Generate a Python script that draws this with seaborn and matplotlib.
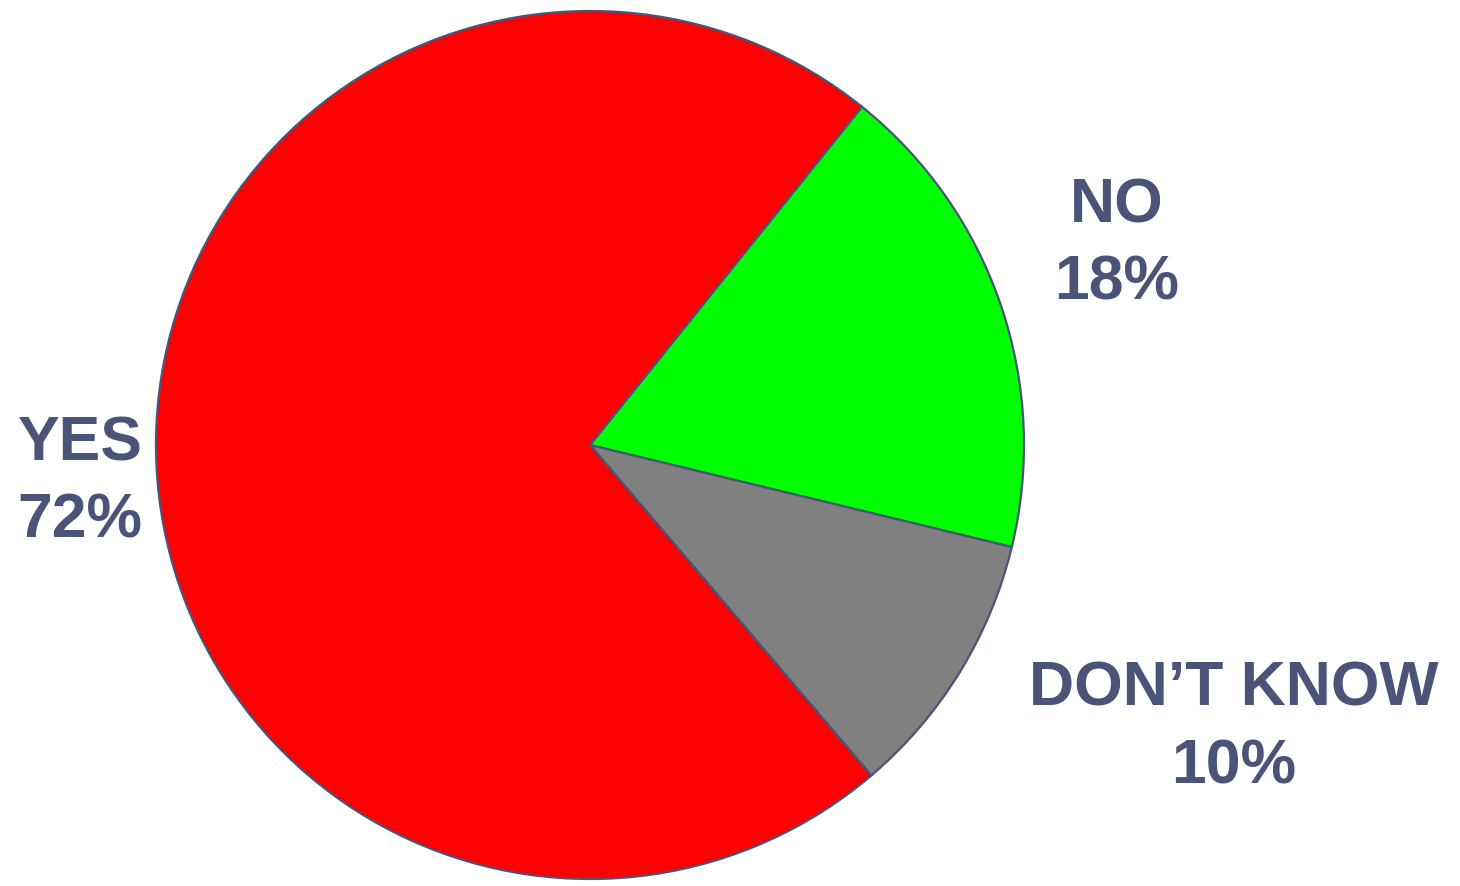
import matplotlib
matplotlib.use("Agg")
import matplotlib.pyplot as plt
import seaborn as sns

categories = ["NO", "DON\u2019T KNOW", "YES"]
values = [18, 10, 72]
slice_colors = ["#00ff00", "#808080", "#ff0000"]

sns.set_theme(style="white")
plt.rcParams['font.family'] = ['Liberation Sans', 'DejaVu Sans']

W, H = 1460, 886
fig = plt.figure(figsize=(W / 100, H / 100), dpi=100)
ax = fig.add_axes([0, 0, 1, 1])
ax.set_xlim(0, W)
ax.set_ylim(0, H)
ax.axis("off")

cx, cy, r = 590, H - 445, 434
ax.pie(values, colors=slice_colors, startangle=51.2, counterclock=False,
       center=(cx, cy), radius=r, frame=True,
       wedgeprops=dict(edgecolor="#4a5378", linewidth=1.6))
ax.set_xlim(0, W)
ax.set_ylim(0, H)
ax.set_aspect("auto")
ax.axis("off")

text_color = "#4a5378"
# label anchor (x, baseline of first line) in pixels from top
anchors = {"NO": (1117, 222), "DON\u2019T KNOW": (1234, 706), "YES": (80, 460)}
for cat, val in zip(categories, values):
    x, yb = anchors[cat]
    ax.text(x, H - yb, cat, ha="center", va="baseline", fontsize=45,
            fontweight="bold", color=text_color)
    ax.text(x, H - yb - 77, f"{val}%", ha="center", va="baseline", fontsize=45,
            fontweight="bold", color=text_color)

fig.savefig("out.png", dpi=100, facecolor="white")
